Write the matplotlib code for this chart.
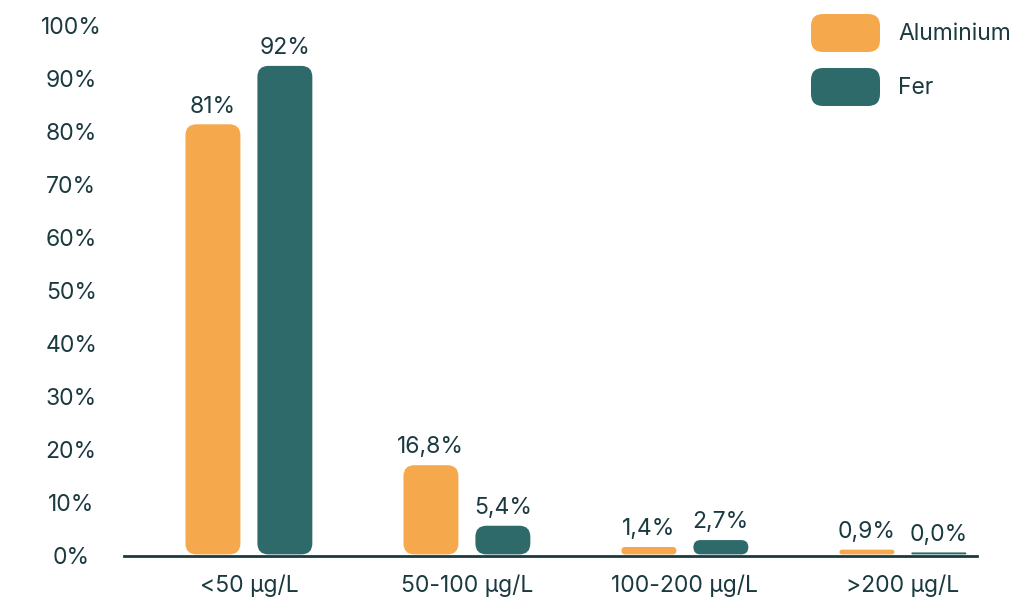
import matplotlib
matplotlib.use("Agg")
import matplotlib.pyplot as plt
from matplotlib.patches import FancyBboxPatch

# data
categories = ["<50 µg/L", "50-100 µg/L", "100-200 µg/L", ">200 µg/L"]
series_names = ["Aluminium", "Fer"]
aluminium = [81, 16.8, 1.4, 0.9]
fer = [92, 5.4, 2.7, 0.0]
aluminium_labels = ["81%", "16,8%", "1,4%", "0,9%"]
fer_labels = ["92%", "5,4%", "2,7%", "0,0%"]
y_ticks = [0, 10, 20, 30, 40, 50, 60, 70, 80, 90, 100]

ORANGE = "#F6A84D"
TEAL = "#2F6A6A"
TEXT = "#1B3A40"
FS = 16.5

plt.rcParams['font.family'] = ['Inter', 'DejaVu Sans']

W, H = 1025, 598
fig = plt.figure(figsize=(W / 100, H / 100), dpi=100)
ax = fig.add_axes([124 / W, 42 / H, (977 - 124) / W, 531 / H])

ax.set_xlim(-0.573, 3.34)
ax.set_ylim(0, 100)

for s in ["top", "right", "left"]:
    ax.spines[s].set_visible(False)
ax.spines["bottom"].set_color(TEXT)
ax.spines["bottom"].set_linewidth(2)
ax.spines["bottom"].set_zorder(5)

ax.set_yticks(y_ticks)
ax.set_yticklabels([f"{t}%" for t in y_ticks])
ax.set_xticks(range(len(categories)))
ax.set_xticklabels(categories)
ax.tick_params(axis="y", length=0, pad=38, labelsize=FS, labelcolor=TEXT)
ax.tick_params(axis="x", length=0, pad=13, labelsize=FS, labelcolor=TEXT)
for lbl in ax.get_yticklabels():
    lbl.set_horizontalalignment("center")

# pixels per data unit, for round corners
px_x = ax.bbox.width / (3.34 + 0.573)
px_y = ax.bbox.height / 100
aspect = px_x / px_y

bar_w = 0.252
offset = 0.165
radius_px = 11


def rounded_bar(x, h, color):
    h_px = max(h * px_y, 2)
    h_draw = h_px / px_y
    r_px = min(radius_px, h_px / 2)
    patch = FancyBboxPatch((x - bar_w / 2, 0.3), bar_w, h_draw,
                           boxstyle=f"round,pad=0,rounding_size={r_px / px_x}",
                           mutation_aspect=aspect, facecolor=color,
                           edgecolor="none", zorder=3)
    ax.add_patch(patch)
    return h_draw


for i in range(len(categories)):
    for vals, labels, color, sign in [(aluminium, aluminium_labels, ORANGE, -1),
                                      (fer, fer_labels, TEAL, 1)]:
        x = i + sign * offset
        top = rounded_bar(x, vals[i], color)
        ax.annotate(labels[i], (x, top), xytext=(0, 6), textcoords="offset points",
                    ha="center", va="bottom", fontsize=FS, color=TEXT)

# legend drawn by hand to get rounded swatches
fig_aspect = W / H
for j, (name, color) in enumerate(zip(series_names, [ORANGE, TEAL])):
    top_px = 14 + j * 54
    sw = FancyBboxPatch((811 / W, 1 - (top_px + 38) / H), 69 / W, 38 / H,
                        boxstyle=f"round,pad=0,rounding_size={12 / W}",
                        mutation_aspect=fig_aspect, transform=fig.transFigure,
                        facecolor=color, edgecolor="none")
    fig.add_artist(sw)
    fig.text(898 / W, 1 - (top_px + 20) / H, name, ha="left", va="center",
             fontsize=FS, color=TEXT)

fig.savefig("out.png", dpi=100)
